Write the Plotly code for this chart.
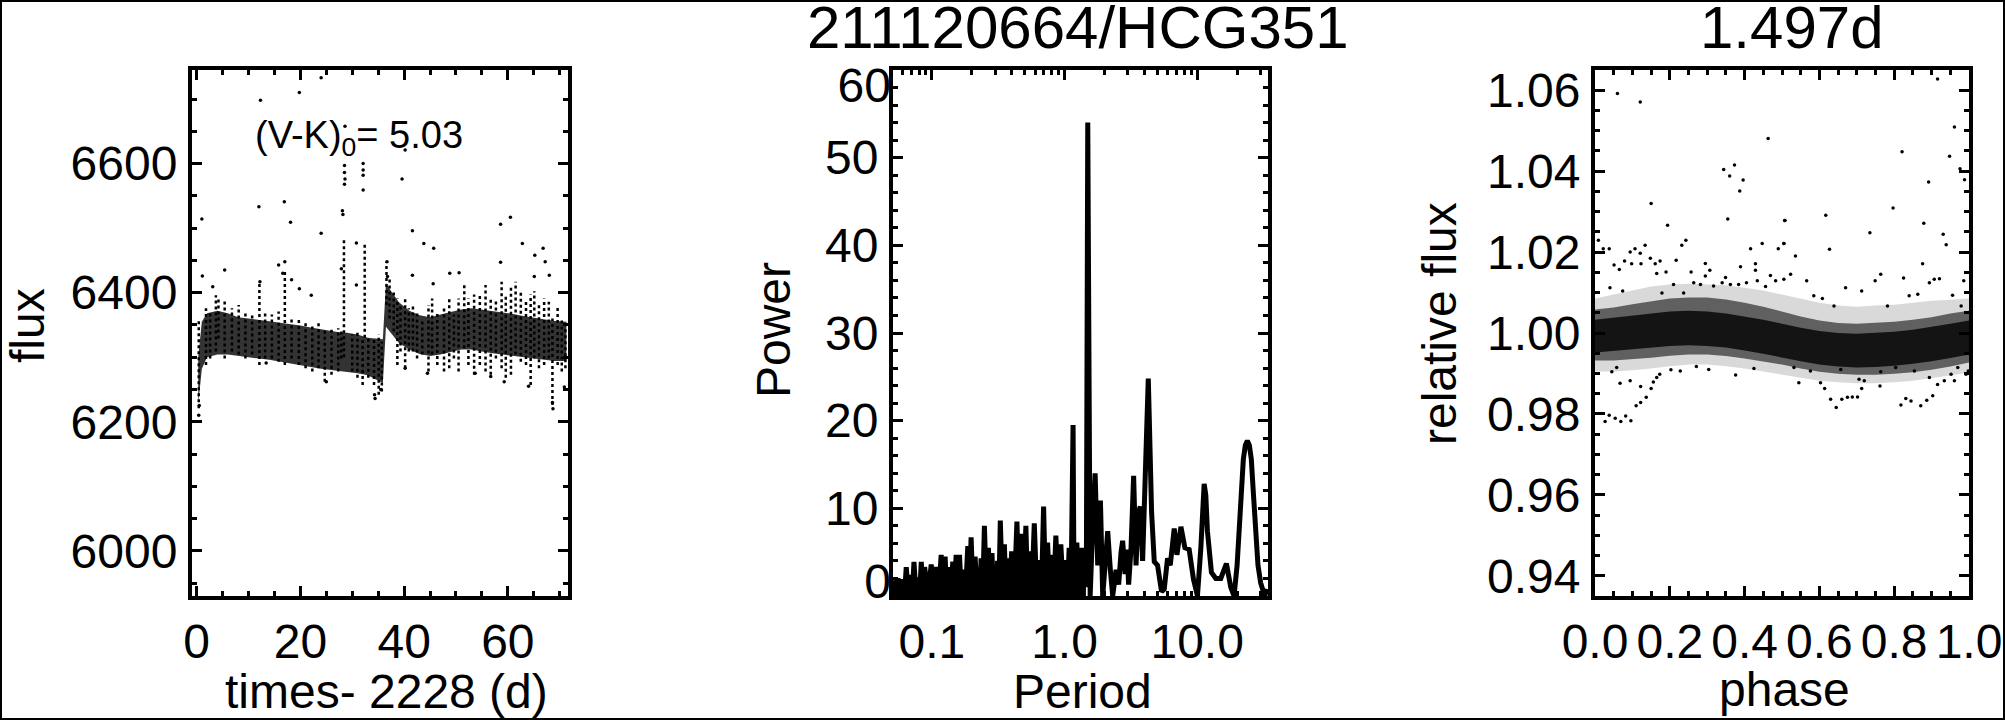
import plotly.graph_objects as go

W, H = 2005, 720
FONT = "Liberation Sans"

# ---------------- Panel 1 : light curve (times - 2228 d, flux) ----------------
core_t = [0.3, 1.0, 2, 4, 6, 8, 10, 12, 14, 16, 18, 20, 22, 24, 26, 28.0, 29.0, 31, 33, 35, 35.9,
          36.5, 37.5, 39, 41, 43, 45, 47, 49, 51, 53, 55, 57, 59, 61, 63, 65, 67, 69, 71.3]
core_lo = [6227, 6282, 6300, 6304, 6304, 6302, 6300, 6298, 6296, 6293, 6290, 6288, 6285, 6282, 6279,
           6277, 6277, 6275, 6272, 6264, 6260, 6347, 6337, 6322, 6312, 6305, 6302, 6304, 6308, 6312,
           6312, 6309, 6306, 6303, 6301, 6299, 6298, 6296, 6294, 6294]
core_hi = [6300, 6355, 6368, 6372, 6368, 6362, 6360, 6358, 6356, 6353, 6351, 6349, 6346, 6343, 6340,
           6338, 6338, 6335, 6330, 6328, 6328, 6415, 6402, 6385, 6372, 6365, 6362, 6366, 6370, 6374,
           6376, 6374, 6371, 6369, 6367, 6364, 6361, 6359, 6356, 6355]

streak_t = [0.4, 1.8, 2.6, 3.7, 4.2, 5.4, 6.8, 8.1, 9.4, 10.7, 12.1, 13.2, 14.5, 15.8, 17.0,
            18.3, 19.7, 21.0, 22.3, 23.5, 24.7, 26.0, 27.3, 27.9, 28.4, 30.0, 31.0, 32.0, 32.4, 33.1,
            34.2, 35.1, 35.7, 36.6, 37.2, 38.0, 38.7, 39.3, 40.2, 40.9, 41.7, 42.5, 43.5, 44.7, 45.4,
            46.4, 47.7, 48.7, 49.6, 50.5, 51.6, 52.4, 53.5, 54.6, 55.7, 56.7, 57.7, 58.8, 59.6, 60.6,
            61.5, 62.5, 63.5, 64.4, 65.1, 66.0, 67.0, 67.9, 68.6, 69.6, 70.4, 71.1]
streak_lo = [6221, 6288, 6298, 6309, 6329, 6298, 6309, 6304, 6298, 6304, 6288, 6298, 6298, 6293, 6288,
             6298, 6288, 6283, 6278, 6283, 6262, 6273, 6278, 6298, 6300, 6278, 6268, 6257, 6330, 6268,
             6257, 6242, 6247, 6381, 6360, 6340, 6288, 6309, 6283, 6309, 6309, 6298, 6304, 6278, 6304,
             6288, 6278, 6283, 6298, 6278, 6314, 6288, 6273, 6288, 6278, 6273, 6298, 6283, 6268, 6273,
             6304, 6293, 6288, 6257, 6298, 6283, 6288, 6298, 6226, 6288, 6278, 6283]
streak_hi = [6360, 6376, 6368, 6396, 6391, 6391, 6376, 6381, 6368, 6366, 6417, 6371, 6366, 6371, 6433,
             6360, 6360, 6355, 6350, 6355, 6345, 6345, 6345, 6340, 6485, 6335, 6340, 6330, 6475, 6330,
             6330, 6335, 6324, 6448, 6422, 6401, 6391, 6381, 6391, 6376, 6381, 6371, 6360, 6381, 6391,
             6371, 6376, 6391, 6366, 6391, 6412, 6391, 6397, 6397, 6412, 6391, 6391, 6417, 6397, 6412,
             6417, 6402, 6386, 6397, 6402, 6381, 6391, 6386, 6360, 6381, 6360, 6350]

out_t = [1.0, 12.3, 19.8, 24.0, 12.0, 16.9, 18.1, 24.0, 28.6, 28.5, 28.5, 28.6, 28.5, 28.1, 28.2,
         32.1, 32.1, 32.1, 32.1, 39.6, 40.2, 41.6, 43.8, 45.7, 58.6, 60.5, 62.8, 65.2, 66.8, 1.1,
         5.4, 15.8, 17.0, 16.6, 3.1, 12.2, 22.1, 18.3, 19.8, 27.9, 30.8, 30.8, 36.7, 36.8, 41.6,
         45.6, 48.8, 50.6, 58.6, 67.2, 68.0, 65.1, 34.3, 34.4, 40.2, 44.5, 53.7, 56.7, 59.3, 64.0,
         70.9, 68.6, 68.7, 0.4, 0.5, 13.4, 25.0, 35.5]
out_f = [6514, 6698, 6710, 6733, 6533, 6541, 6509, 6492, 6658, 6597, 6586, 6576, 6568, 6527, 6521,
         6600, 6590, 6582, 6559, 6576, 6621, 6496, 6476, 6469, 6506, 6517, 6476, 6458, 6469, 6426,
         6435, 6443, 6448, 6430, 6409, 6417, 6396, 6420, 6406, 6437, 6477, 6412, 6448, 6425, 6427,
         6414, 6430, 6431, 6447, 6448, 6427, 6425, 6242, 6236, 6283, 6275, 6275, 6270, 6262, 6255,
         6254, 6230, 6220, 6210, 6225, 6291, 6262, 6250]

# ---------------- Panel 2 : periodogram (Period, Power) ----------------
per = [0.0509, 0.0530, 0.0555, 0.0580, 0.0605, 0.0622, 0.0641, 0.0665, 0.0692, 0.0712, 0.0733, 0.0758,
       0.0785, 0.0808, 0.0832, 0.0856, 0.0882, 0.0935, 0.0989, 0.1030, 0.1077, 0.1125, 0.1175, 0.1215,
       0.1259, 0.1290, 0.1319, 0.1380, 0.1439, 0.1480, 0.1524, 0.1570, 0.1615, 0.1660, 0.1720, 0.1790,
       0.1866, 0.1920, 0.1976, 0.2045, 0.2118, 0.2180, 0.2250, 0.2300, 0.2350, 0.2420, 0.2489, 0.2580,
       0.2668, 0.2750, 0.2838, 0.2915, 0.2992, 0.3050, 0.3130, 0.3200, 0.3281, 0.3400, 0.3521, 0.3620,
       0.3726, 0.3860, 0.3995, 0.4180, 0.4378, 0.4530, 0.4693, 0.4900, 0.5114, 0.5270, 0.5427, 0.5660,
       0.5918, 0.6180, 0.6452, 0.6700, 0.6954, 0.7200, 0.7454, 0.7720, 0.7989, 0.8290, 0.8603, 0.8980,
       0.9379, 0.9800, 1.0230, 1.0530, 1.0840, 1.1200, 1.1600, 1.1800, 1.2000, 1.2380, 1.2800, 1.3270,
       1.3700, 1.4210, 1.4600, 1.4970, 1.5610, 1.6320, 1.7010, 1.7800, 1.8650, 1.9410, 2.0230, 2.1160,
       2.2180, 2.3080, 2.4470, 2.5600, 2.6680, 2.7430, 2.8600, 2.9610, 3.0440, 3.1730, 3.3190, 3.4600,
       3.6010, 3.7280, 3.8790, 4.0640, 4.2810, 4.5340, 4.7510, 5.0300, 5.3900, 5.6480, 5.9800, 6.2660,
       6.7160, 7.0370, 7.5410, 8.0810, 8.7060, 9.3800, 10.050, 10.660, 10.960, 11.290, 11.620, 11.950,
       12.810, 13.820, 15.070, 16.610, 17.920, 18.970, 20.000, 20.700, 21.430, 22.290, 23.080, 23.890,
       24.730, 25.600, 26.590, 27.630, 28.740, 30.120, 32.280, 33.600]
pw = [1.0, 0.1, 2.0, 0.2, 1.9, 0.1, 3.3, 0.2, 2.4, 0.1, 3.9, 0.3,
      2.1, 0.1, 3.9, 0.4, 3.3, 0.2, 3.6, 0.3, 3.3, 0.2, 4.7, 0.5,
      4.5, 0.3, 3.3, 0.2, 3.9, 0.4, 4.7, 0.3, 4.7, 1.0, 3.0, 0.2,
      5.7, 0.6, 6.7, 0.3, 4.5, 0.8, 3.2, 0.2, 4.3, 0.5, 8.0, 0.4,
      5.5, 0.3, 4.9, 0.2, 2.9, 0.1, 4.0, 0.3, 8.6, 0.5, 5.9, 0.2,
      4.3, 0.4, 5.1, 0.3, 8.5, 0.6, 7.1, 0.2, 8.0, 0.4, 5.1, 0.3,
      8.3, 0.2, 4.1, 0.3, 10.2, 0.5, 6.1, 0.4, 4.7, 0.3, 6.9, 0.5,
      5.9, 0.4, 4.1, 0.3, 5.5, 0.8, 19.5, 0.5, 3.0, 6.1, 0.5, 5.5,
      0.4, 5.5, 1.0, 54.0, 0.0, 8.2, 14.0, 3.5, 10.9, 0.0, 4.7, 7.4,
      2.9, 0.0, 3.0, 1.3, 5.0, 6.3, 2.5, 5.3, 1.3, 5.5, 13.7, 3.5,
      9.5, 10.2, 4.0, 13.0, 24.8, 9.5, 3.9, 3.5, 0.5, 0.8, 4.3, 3.5,
      7.7, 4.7, 7.9, 5.5, 5.3, 1.9, 0.0, 5.5, 10.0, 12.8, 11.5, 7.4,
      2.7, 2.0, 2.0, 3.7, 1.0, 0.0, 3.5, 7.4, 11.5, 15.6, 17.2, 17.7,
      17.2, 15.6, 11.5, 7.4, 3.5, 1.5, 0.0, 0.8]
# solid black floor of the dense short-period forest
base_per = [0.0509, 0.1, 0.3, 0.6, 1.0, 1.45]
base_pw = [1.8, 2.1, 2.5, 2.8, 3.1, 3.0]

# Power-axis labels
power_ticks = [10, 20, 30, 40, 50]
power_end_ticks = [0, 60]

# ---------------- Panel 3 : phased light curve (phase, relative flux) ----------------
ph_grid = [0.0, 0.05, 0.10, 0.15, 0.20, 0.25, 0.30, 0.35, 0.40, 0.45, 0.50, 0.55, 0.60, 0.65, 0.70,
           0.75, 0.80, 0.85, 0.90, 0.95, 1.0]
in_hi = [1.0033, 1.0038, 1.0043, 1.0048, 1.0053, 1.0055, 1.0053, 1.0048, 1.0041, 1.0033, 1.0023,
         1.0013, 1.0005, 1.0000, 0.9998, 1.0000, 1.0003, 1.0008, 1.0015, 1.0023, 1.0031]
in_lo = [0.9952, 0.9955, 0.9959, 0.9964, 0.9968, 0.9970, 0.9968, 0.9964, 0.9957, 0.9949, 0.9940,
         0.9930, 0.9922, 0.9917, 0.9915, 0.9916, 0.9919, 0.9924, 0.9930, 0.9938, 0.9947]
out_hi = [1.0058, 1.0063, 1.0071, 1.0078, 1.0085, 1.0088, 1.0088, 1.0083, 1.0075, 1.0065, 1.0053,
          1.0041, 1.0031, 1.0025, 1.0023, 1.0025, 1.0028, 1.0033, 1.0039, 1.0048, 1.0055]
out_lo = [0.9932, 0.9932, 0.9935, 0.9939, 0.9944, 0.9947, 0.9947, 0.9943, 0.9937, 0.9930, 0.9922,
          0.9912, 0.9904, 0.9899, 0.9897, 0.9897, 0.9899, 0.9903, 0.9909, 0.9917, 0.9927]
halo_hi = [1.0085, 1.0095, 1.0105, 1.0115, 1.0120, 1.0122, 1.0120, 1.0118, 1.0112, 1.0105, 1.0095,
           1.0085, 1.0075, 1.0068, 1.0065, 1.0068, 1.0070, 1.0075, 1.0080, 1.0082, 1.0085]
halo_lo = [0.9905, 0.9905, 0.9908, 0.9912, 0.9918, 0.9922, 0.9922, 0.9918, 0.9912, 0.9905, 0.9898,
           0.9890, 0.9882, 0.9878, 0.9876, 0.9876, 0.9878, 0.9882, 0.9888, 0.9895, 0.9902]

pt_ph = [0.060, 0.121, 0.463, 0.344, 0.360, 0.373, 0.396, 0.387, 0.150, 0.194, 0.355, 0.508, 0.243,
         0.232, 0.009, 0.022, 0.038, 0.094, 0.107, 0.121, 0.134, 0.051, 0.079, 0.065, 0.098, 0.123,
         0.148, 0.161, 0.174, 0.165, 0.190, 0.217, 0.257, 0.295, 0.295, 0.307, 0.389, 0.416, 0.429,
         0.429, 0.447, 0.490, 0.505, 0.040, 0.074, 0.038, 0.027, 0.054, 0.069, 0.082, 0.096, 0.110,
         0.122, 0.137, 0.150, 0.156, 0.165, 0.173, 0.122, 0.067, 0.094, 0.045, 0.058, 0.376, 0.203,
         0.228, 0.271, 0.304, 0.425, 0.264, 0.282, 0.210, 0.179, 0.237, 0.317, 0.340, 0.349, 0.362,
         0.384, 0.405, 0.434, 0.456, 0.469, 0.483,
         0.916, 0.961, 0.821, 0.948, 0.976, 0.988, 0.892, 0.797, 0.617, 0.507, 0.879, 0.735, 0.931,
         0.939, 0.627, 0.505, 0.536, 0.876, 0.764, 0.749, 0.825, 0.907, 0.921, 0.894, 0.523, 0.566,
         0.670, 0.713, 0.986, 0.545, 0.603, 0.614, 0.630, 0.645, 0.660, 0.675, 0.688, 0.702, 0.713,
         0.762, 0.818, 0.831, 0.845, 0.871, 0.887, 0.903, 0.916, 0.934, 0.961, 0.720, 0.952, 0.992,
         0.505, 0.585, 0.639, 0.608, 0.782, 0.840, 0.863, 0.956, 0.979, 0.532, 0.576, 0.657, 0.706,
         0.764, 0.804, 0.854, 0.894, 0.970, 0.998]
pt_fl = [1.0592, 1.0571, 1.0481, 1.0404, 1.0388, 1.0415, 1.0378, 1.0351, 1.0320, 1.0266, 1.0282, 1.0278,
         1.0229, 1.0217, 1.0229, 1.0208, 1.0208, 1.0200, 1.0208, 1.0197, 1.0217, 1.0168, 1.0178, 1.0157,
         1.0171, 1.0171, 1.0185, 1.0171, 1.0178, 1.0147, 1.0151, 1.0180, 1.0151, 1.0172, 1.0141, 1.0155,
         1.0164, 1.0208, 1.0171, 1.0155, 1.0221, 1.0208, 1.0221, 1.0112, 1.0104, 0.9797, 0.9781, 0.9789,
         0.9781, 0.9795, 0.9783, 0.9820, 0.9828, 0.9841, 0.9863, 0.9879, 0.9890, 0.9898, 0.9868, 0.9876,
         0.9882, 0.9904, 0.9915, 0.9896, 0.9909, 0.9906, 0.9917, 0.9910, 0.9912, 1.0124, 1.0120, 1.0120,
         1.0099, 1.0099, 1.0116, 1.0124, 1.0137, 1.0120, 1.0120, 1.0124, 1.0129, 1.0115, 1.0142, 1.0129,
         1.0628, 1.0509, 1.0448, 1.0437, 1.0406, 1.0379, 1.0373, 1.0309, 1.0291, 1.0278, 1.0271, 1.0248,
         1.0244, 1.0218, 1.0207, 1.0221, 1.0190, 1.0171, 1.0145, 1.0129, 1.0136, 1.0133, 1.0134, 1.0124,
         1.0145, 1.0129, 1.0112, 1.0104, 1.0129, 0.9877, 0.9877, 0.9863, 0.9836, 0.9816, 0.9836, 0.9841,
         0.9842, 0.9842, 0.9863, 0.9869, 0.9822, 0.9838, 0.9832, 0.9820, 0.9834, 0.9845, 0.9873, 0.9882,
         0.9882, 0.9882, 0.9898, 0.9898, 1.0133, 1.0092, 1.0067, 1.0085, 1.0067, 1.0092, 1.0096, 1.0093,
         1.0067, 0.9915, 0.9906, 0.9910, 0.9886, 0.9904, 0.9915, 0.9906, 0.9890, 0.9915, 0.9906]

# ---------------- figure ----------------
fig = go.Figure()

# panel 1
fig.add_trace(go.Scatter(x=core_t + core_t[::-1], y=core_hi + core_lo[::-1], fill="toself",
                         fillcolor="#333333", line=dict(width=0), mode="lines",
                         hoverinfo="skip", xaxis="x", yaxis="y"))
sx, sy = [], []
for t, lo, hi in zip(streak_t, streak_lo, streak_hi):
    sx += [t, t, None]
    sy += [lo, hi, None]
fig.add_trace(go.Scatter(x=sx, y=sy, mode="lines",
                         line=dict(color="black", width=2.5, dash="3px,3px"),
                         xaxis="x", yaxis="y"))
fig.add_trace(go.Scatter(x=out_t, y=out_f, mode="markers",
                         marker=dict(size=3.5, color="black"), xaxis="x", yaxis="y"))

# panel 2
fig.add_trace(go.Scatter(x=base_per, y=base_pw, fill="tozeroy", fillcolor="black",
                         line=dict(width=0), mode="lines", xaxis="x2", yaxis="y2"))
fig.add_trace(go.Scatter(x=per, y=pw, mode="lines", line=dict(color="black", width=5),
                         xaxis="x2", yaxis="y2"))
# carrier for the end labels of the Power axis (drawn slightly inside the frame, as in the original)
fig.add_trace(go.Scatter(x=[], y=[], mode="lines", xaxis="x2", yaxis="y4", showlegend=False))

# panel 3
fig.add_trace(go.Scatter(x=ph_grid + ph_grid[::-1], y=halo_hi + halo_lo[::-1], fill="toself",
                         fillcolor="#d9d9d9", line=dict(width=0), mode="lines",
                         xaxis="x3", yaxis="y3"))
fig.add_trace(go.Scatter(x=ph_grid + ph_grid[::-1], y=out_hi + out_lo[::-1], fill="toself",
                         fillcolor="#606060", line=dict(width=0), mode="lines",
                         xaxis="x3", yaxis="y3"))
fig.add_trace(go.Scatter(x=ph_grid + ph_grid[::-1], y=in_hi + in_lo[::-1], fill="toself",
                         fillcolor="#141414", line=dict(width=0), mode="lines",
                         xaxis="x3", yaxis="y3"))
fig.add_trace(go.Scatter(x=pt_ph, y=pt_fl, mode="markers",
                         marker=dict(size=3.5, color="black"), xaxis="x3", yaxis="y3"))

ydom = [1 - 596 / H, 1 - 70 / H]
tickfont = dict(family=FONT, size=48, color="black")


def axis_style(letter, **kw):
    base = dict(showline=True, linewidth=4, linecolor="black", mirror="ticks",
                ticks="inside", ticklen=10, tickwidth=3, tickcolor="black",
                showgrid=False, zeroline=False, tickfont=tickfont, automargin=False,
                fixedrange=True, ticklabelstandoff=(0 if letter == "x" else 1))
    base.update(kw)
    return base


def minor(**kw):
    m = dict(ticks="inside", ticklen=5, tickwidth=3, tickcolor="black", showgrid=False)
    m.update(kw)
    return m


fig.update_layout(
    width=W, height=H, autosize=False,
    margin=dict(l=0, r=0, t=0, b=0, pad=0),
    paper_bgcolor="white", plot_bgcolor="white",
    showlegend=False,
    font=dict(family=FONT, color="black"),
    xaxis=axis_style("x", domain=[192 / W, 568 / W], range=[-0.9, 71.6],
                     tickmode="array", tickvals=[0, 20, 40, 60],
                     minor=minor(tickmode="linear", tick0=0, dtick=5), anchor="y"),
    yaxis=axis_style("y", domain=ydom, range=[5930, 6745], tickmode="array",
                     tickvals=[6000, 6200, 6400, 6600],
                     minor=minor(tickmode="linear", tick0=6000, dtick=50), anchor="x"),
    xaxis2=axis_style("x", domain=[893 / W, 1268 / W], type="log", range=[-1.293, 1.534],
                      tickmode="array", tickvals=[0.1, 1, 10], ticktext=["0.1", "1.0", "10.0"],
                      minor=minor(tickmode="array",
                                  tickvals=[0.06, 0.07, 0.08, 0.09, 0.2, 0.3, 0.4, 0.5, 0.6, 0.7,
                                            0.8, 0.9, 2, 3, 4, 5, 6, 7, 8, 9, 20, 30]),
                      anchor="y2"),
    yaxis2=axis_style("y", domain=ydom, range=[0, 60], tickmode="array",
                      tickvals=power_ticks,
                      minor=minor(tickmode="linear", tick0=0, dtick=2), anchor="x2"),
    # same frame, range widened a little so that "0" and "60" sit just inside the frame ends
    yaxis4=dict(overlaying="y2", anchor="x2", side="left", range=[-1.815, 61.815],
                tickmode="array", tickvals=power_end_ticks, ticks="",
                showline=False, showgrid=False, zeroline=False, tickfont=tickfont,
                automargin=False, fixedrange=True, ticklabelstandoff=1),
    xaxis3=axis_style("x", domain=[1595 / W, 1969 / W], range=[0, 1], tickmode="array",
                      tickvals=[0, 0.2, 0.4, 0.6, 0.8, 1.0],
                      ticktext=["0.0", "0.2", "0.4", "0.6", "0.8", "1.0"],
                      minor=minor(tickmode="linear", tick0=0, dtick=0.05), anchor="y3"),
    yaxis3=axis_style("y", domain=ydom, range=[0.935, 1.065], tickmode="array",
                      tickvals=[0.94, 0.96, 0.98, 1.00, 1.02, 1.04, 1.06],
                      ticktext=["0.94", "0.96", "0.98", "1.00", "1.02", "1.04", "1.06"],
                      minor=minor(tickmode="linear", tick0=0.94, dtick=0.005), anchor="x3"),
)


def ann(text, x, y, size, angle=0, xanchor="center"):
    fig.add_annotation(text=text, x=x / W, y=1 - y / H, xref="paper", yref="paper",
                       showarrow=False, textangle=angle, xanchor=xanchor, yanchor="middle",
                       font=dict(family=FONT, size=size, color="black"))


ann("211120664/HCG351", 1078, 28, 60)
ann("1.497d", 1792, 28, 60)
ann("(V-K)<sub>0</sub>= 5.03", 253, 138, 38, xanchor="left")
ann("flux", 28, 326, 48, angle=-90)
ann("Power", 774, 330, 48, angle=-90)
ann("relative flux", 1440, 324, 48, angle=-90)
ann("times- 2228 (d)", 386, 691, 48)
ann("Period", 1082, 691, 48)
ann("phase", 1784, 689, 48)

fig.add_shape(type="rect", xref="paper", yref="paper", x0=0, x1=1, y0=0, y1=1,
              line=dict(color="black", width=4), fillcolor="rgba(0,0,0,0)")

fig.write_html("out.html", config={"displayModeBar": False},
               post_script="document.body.style.margin='0';"
                           "document.body.style.overflow='hidden';")
